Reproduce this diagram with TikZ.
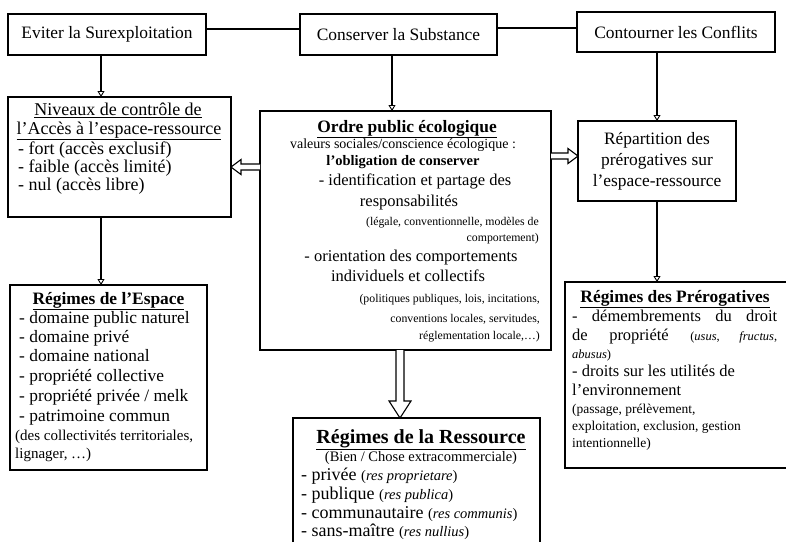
\documentclass[tikz,border=0pt]{standalone}
\usepackage{fontspec}
\setmainfont{Liberation Serif}
\usetikzlibrary{arrows.meta,calc}
\newcommand\hollowarr[5]{%
  \coordinate (hb) at ($(#2)!#5!(#1)$);
  \draw[ln,fill=white] ($(#1)!#3!90:(#2)$) -- ($(hb)!#3!-90:(#1)$) -- ($(hb)!#4!-90:(#1)$) -- (#2)
    -- ($(hb)!#4!90:(#1)$) -- ($(hb)!#3!90:(#1)$) -- ($(#1)!#3!-90:(#2)$);}
\newcommand\fsz[1]{\fontsize{#1}{#1}\selectfont}
\begin{document}
\begin{tikzpicture}[x=1pt,y=-1pt,
  box/.style={draw, line width=1.2pt, inner sep=0pt, outer sep=0pt, anchor=north west},
  ln/.style={line width=1.1pt},
  arr/.style={line width=1.1pt, -{Triangle[open,width=7pt,length=6pt,line width=0.9pt]}},
  t/.style={inner sep=0pt, font=\fsz{17.4}},
  tn/.style={inner sep=0pt, font=\fsz{18}},
  tb/.style={inner sep=0pt, font=\fsz{17.4}\bfseries},
  to/.style={inner sep=0pt, font=\fsz{16.5}},
  ts/.style={inner sep=0pt, font=\fsz{11.8}},
  tp/.style={inner sep=0pt, font=\fsz{13.5}},
  tr/.style={inner sep=0pt, font=\fsz{18}},
]
\useasboundingbox (0,0) rectangle (786,542);

% top boxes
\node[box, minimum width=198pt, minimum height=41pt, font=\fsz{17.4}] (evi) at (8,14) {Eviter la Surexploitation};
\node[box, minimum width=197pt, minimum height=41pt, font=\fsz{17.4}] (con) at (300,14) {Conserver la Substance};
\node[box, minimum width=198pt, minimum height=40pt, font=\fsz{17.4}] (cnt) at (577,12) {Contourner les Conflits};
\draw[ln] ([yshift=5.5pt]evi.east) -- ([yshift=5.5pt]evi.east -| con.west);
\draw[ln] ([yshift=4pt]cnt.west) -- ([yshift=4pt]cnt.west -| con.east);

% main boxes
\node[box, minimum width=223pt, minimum height=120pt] (niv) at (8,97) {};
\node[box, minimum width=291pt, minimum height=239pt, line width=2pt] (ord) at (260,111) {};
\node[box, minimum width=158pt, minimum height=80pt, align=center, font=\fontsize{17.4}{21}\selectfont] (rep) at (578,121)
  {Répartition des\\prérogatives sur\\l’espace-ressource};
\node[box, minimum width=197pt, minimum height=185pt] (esp) at (10,285) {};
\node[inner sep=0pt, outer sep=0pt, anchor=north west, minimum width=221pt, minimum height=186pt] (pre) at (565,282) {};
\draw[line width=1.2pt] (pre.north east) -- (pre.north west) -- (pre.south west) -- (pre.south east);
\node[inner sep=0pt, outer sep=0pt, anchor=north west, minimum width=247pt, minimum height=124pt] (res) at (293,418) {};
\draw[line width=1.2pt] (res.south west) -- (res.north west) -- (res.north east) -- (res.south east);

% simple arrows
\draw[arr] ([xshift=-6pt]evi.south) -- ([xshift=-6pt]evi.south |- niv.north);
\draw[arr] ([xshift=-6.5pt]con.south) -- ([xshift=-6.5pt]con.south |- ord.north);
\draw[arr] (rep.north |- cnt.south) -- (rep.north);
\draw[arr] ([xshift=-18.5pt]niv.south) -- ([xshift=-18.5pt]niv.south |- esp.north);
\draw[arr] (rep.south) -- (rep.south |- pre.north);

% hollow arrows
\coordinate (la1) at (ord.west |- 0,167);
\coordinate (la2) at (niv.east |- 0,167);
\hollowarr{la1}{la2}{3pt}{7.5pt}{10pt}
\coordinate (ra1) at (ord.east |- 0,156);
\coordinate (ra2) at (rep.west |- 0,156);
\hollowarr{ra1}{ra2}{3pt}{7.5pt}{10pt}
\coordinate (da1) at (ord.south -| 400,0);
\coordinate (da2) at (res.north -| 400,0);
\hollowarr{da1}{da2}{4pt}{11pt}{17pt}

% Niveaux text
\node[tn, anchor=mid] (n1) at (118,113) {\underline{Niveaux de contrôle de}};
\node[tn, anchor=mid] (n2) at (119,132) {\underline{l’Accès à l’espace-ressource}};
\node[tn, anchor=mid west] (n3) at (18,152.5) {- fort (accès exclusif)};
\node[tn, anchor=mid west] (n4) at (18,170.5) {- faible (accès limité)};
\node[tn, anchor=mid west] (n5) at (18,188.5) {- nul (accès libre)};

% Ordre text
\node[tb, anchor=mid] (o1) at (407,130) {\underline{Ordre public écologique}};
\node[inner sep=0pt, font=\fsz{14}, anchor=mid] (o2) at (403,146) {valeurs sociales/conscience écologique :};
\node[inner sep=0pt, font=\fsz{14.5}\bfseries, anchor=mid] (o3) at (403,163) {l’obligation de conserver};
\node[to, anchor=mid] (o4) at (415,183) {- identification et partage des};
\node[to, anchor=mid] (o5) at (409,204) {responsabilités};
\node[ts, anchor=mid east] (o6) at (539,223) {(légale, conventionnelle, modèles de};
\node[ts, anchor=mid east] (o7) at (539,239) {comportement)};
\node[to, anchor=mid] (o8) at (411,259) {- orientation des comportements};
\node[to, anchor=mid] (o9) at (408,279) {individuels et collectifs};
\node[ts, anchor=mid east] (o10) at (540,300) {(politiques publiques, lois, incitations,};
\node[ts, anchor=mid east] (o11) at (540,320) {conventions locales, servitudes,};
\node[ts, anchor=mid east] (o12) at (540,337) {réglementation locale,…)};

% Espace text
\node[tb, anchor=mid] (e1) at (108.5,302) {\underline{Régimes de l’Espace}};
\node[t, anchor=mid west] (e2) at (19,321) {- domaine public naturel};
\node[t, anchor=mid west] (e3) at (19,340) {- domaine privé};
\node[t, anchor=mid west] (e4) at (19,359) {- domaine national};
\node[t, anchor=mid west] (e5) at (19,379) {- propriété collective};
\node[t, anchor=mid west] (e6) at (19,399) {- propriété privée / melk};
\node[t, anchor=mid west] (e7) at (19,419) {- patrimoine commun};
\node[inner sep=0pt, font=\fsz{15}, anchor=mid west] (e8) at (15,438) {(des collectivités territoriales,};
\node[inner sep=0pt, font=\fsz{15}, anchor=mid west] (e9) at (15,456) {lignager, …)};

% Prerogatives text
\node[tb, anchor=mid] (p1) at (675,300) {\underline{Régimes des Prérogatives}};
\node[to, anchor=mid west] (p2) at (572,319) {\makebox[205pt][s]{- démembrements du droit}};
\node[to, anchor=mid west] (p3) at (572,338) {\makebox[205pt][s]{de propriété {\fsz{12.5}(\textit{usus}, \textit{fructus},}}};
\node[inner sep=0pt, font=\fsz{12.5}, anchor=mid west] (p4) at (572,356) {\textit{abusus})};
\node[to, anchor=mid west] (p5) at (572,374) {- droits sur les utilités de};
\node[to, anchor=mid west] (p6) at (572,393) {l’environnement};
\node[tp, anchor=mid west] (p7) at (572,411) {(passage, prélèvement,};
\node[tp, anchor=mid west] (p8) at (572,428) {exploitation, exclusion, gestion};
\node[tp, anchor=mid west] (p9) at (572,445) {intentionnelle)};

% Ressource text
\node[inner sep=0pt, font=\fsz{20}\bfseries, anchor=mid] (r1) at (421,441) {\underline{Régimes de la Ressource}};
\node[inner sep=0pt, font=\fsz{14.5}, anchor=mid] (r2) at (421,459) {(Bien / Chose extracommerciale)};
\node[tr, anchor=mid west] (r3) at (301,478) {- privée {\fsz{14.5}(\textit{res proprietare})}};
\node[tr, anchor=mid west] (r4) at (301,497) {- publique {\fsz{14.5}(\textit{res publica})}};
\node[tr, anchor=mid west] (r5) at (301,516) {- communautaire {\fsz{14.5}(\textit{res communis})}};
\node[tr, anchor=mid west] (r6) at (301,534) {- sans-maître {\fsz{14.5}(\textit{res nullius})}};
\end{tikzpicture}
\end{document}
